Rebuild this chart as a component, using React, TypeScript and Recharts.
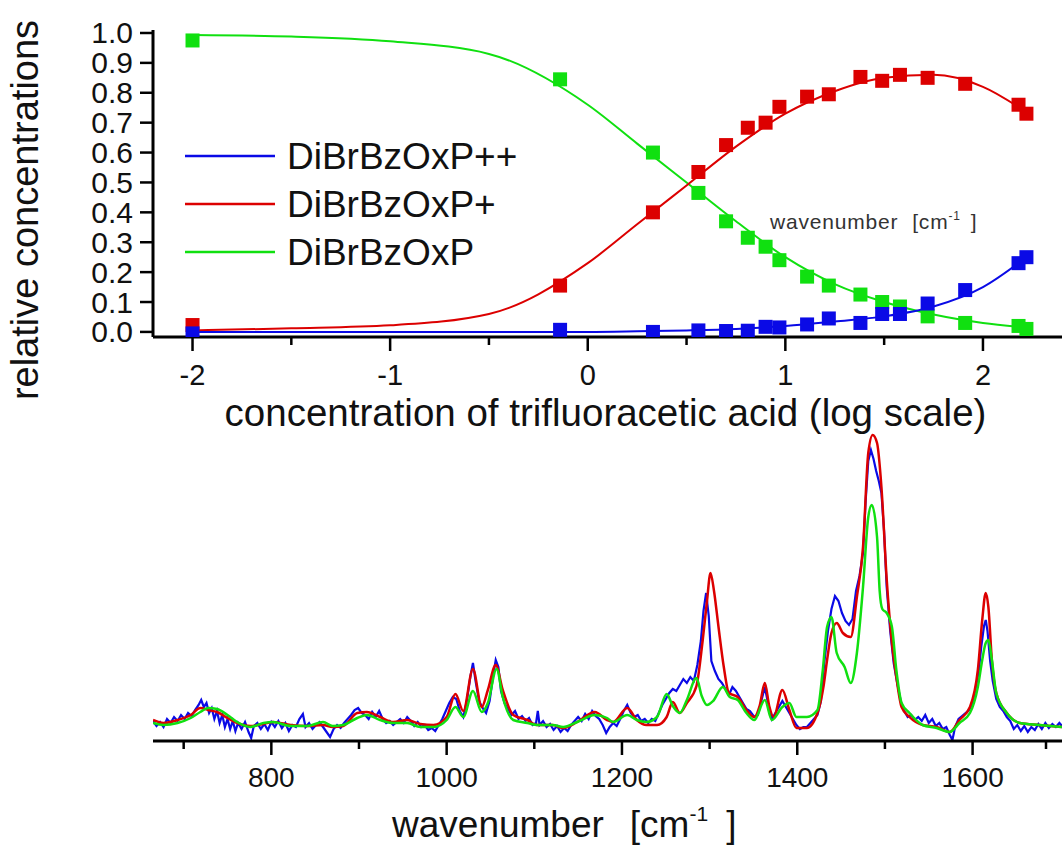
import React from 'react';
import { ComposedChart, Line, Scatter, XAxis, YAxis, Legend } from 'recharts';

const FONT = "'Liberation Sans', Arial, sans-serif";

const BLUE = '#0a0ae6';
const RED = '#dc0000';
const GREEN = '#10e010';

// ---- titration: measured fractions vs log[TFA] ----
const logAcid = [-2, -0.14, 0.33, 0.56, 0.7, 0.81, 0.9, 0.97, 1.11, 1.22, 1.38, 1.49, 1.58, 1.72, 1.91, 2.18, 2.22];
const dicationMeasured = [-0.005, 0.007, 0.0, 0.005, 0.003, 0.004, 0.017, 0.015, 0.025, 0.045, 0.03, 0.06, 0.06, 0.095, 0.14, 0.23, 0.25];
const cationMeasured = [0.023, 0.155, 0.4, 0.535, 0.625, 0.683, 0.7, 0.753, 0.787, 0.795, 0.853, 0.84, 0.86, 0.85, 0.83, 0.76, 0.73];
const neutralMeasured = [0.975, 0.845, 0.6, 0.465, 0.37, 0.315, 0.285, 0.24, 0.185, 0.155, 0.125, 0.1, 0.085, 0.052, 0.03, 0.02, 0.01];

// fitted curves
const fitAcid = [-2, -1.5, -1, -0.5, 0, 0.25, 0.5, 0.75, 1, 1.25, 1.5, 1.75, 2, 2.22];
const dicationFit = [0.0, 0.0, 0.0, 0.0, 0.0, 0.002, 0.005, 0.01, 0.02, 0.035, 0.052, 0.085, 0.15, 0.25];
const cationFit = [0.005, 0.012, 0.022, 0.06, 0.23, 0.36, 0.49, 0.62, 0.73, 0.805, 0.85, 0.86, 0.82, 0.735];
const neutralFit = [0.993, 0.988, 0.972, 0.93, 0.76, 0.63, 0.5, 0.37, 0.25, 0.16, 0.1, 0.058, 0.03, 0.015];

const fracTicks = [0, 0.1, 0.2, 0.3, 0.4, 0.5, 0.6, 0.7, 0.8, 0.9, 1.0];
const acidTicks = [-2, -1.5, -1, -0.5, 0, 0.5, 1, 1.5, 2];

// ---- spectra: [wavenumber, intensity] ----
const cationSpectrum: [number, number][] = [
  [665, 21], [677, 18], [693, 21], [708, 26], [719, 33], [728, 31], [738, 29], [750, 23], [761, 18], [776, 15],
  [791, 17], [802, 19], [822, 16], [841, 15], [859, 16], [870, 14], [882, 15], [898, 28], [909, 29], [924, 24],
  [939, 19], [955, 21], [970, 17], [985, 16], [1000, 24], [1010, 47], [1019, 30], [1030, 72], [1040, 34], [1047, 51],
  [1056, 76], [1064, 51], [1076, 26], [1092, 21], [1103, 16], [1121, 16], [1133, 13], [1149, 19], [1169, 29], [1183, 21],
  [1190, 19], [1206, 33], [1217, 21], [1228, 16], [1240, 16], [1251, 24], [1258, 39], [1266, 28], [1274, 38], [1285, 55],
  [1292, 100], [1297, 140], [1301, 168], [1305, 150], [1310, 115], [1316, 75], [1322, 48], [1332, 44], [1342, 31], [1351, 24],
  [1357, 35], [1363, 58], [1368, 35], [1373, 24], [1383, 51], [1391, 31], [1399, 13], [1411, 13], [1423, 28], [1430, 55],
  [1434, 81], [1439, 108], [1445, 118], [1452, 108], [1461, 104], [1468, 144], [1475, 194], [1481, 288], [1486, 306], [1491, 298],
  [1496, 254], [1502, 162], [1508, 98], [1513, 64], [1519, 34], [1528, 24], [1543, 16], [1559, 14], [1574, 9], [1585, 21],
  [1597, 34], [1606, 71], [1611, 121], [1615, 148], [1618, 134], [1622, 81], [1627, 48], [1639, 28], [1654, 18], [1676, 16],
  [1702, 14],
];

const neutralSpectrum: [number, number][] = [
  [665, 18], [677, 16], [693, 18], [708, 23], [719, 29], [728, 33], [738, 32], [750, 26], [761, 19], [776, 14],
  [791, 18], [802, 19], [822, 15], [841, 15], [859, 19], [870, 15], [882, 16], [898, 23], [909, 26], [924, 21],
  [939, 18], [955, 18], [970, 14], [985, 14], [1000, 21], [1010, 34], [1019, 24], [1030, 50], [1040, 29], [1047, 38],
  [1057, 72], [1064, 44], [1076, 21], [1092, 18], [1103, 16], [1121, 16], [1133, 14], [1149, 19], [1169, 26], [1183, 23],
  [1190, 19], [1206, 26], [1217, 21], [1228, 19], [1240, 24], [1251, 47], [1258, 35], [1266, 28], [1274, 41], [1285, 63],
  [1291, 45], [1297, 36], [1304, 40], [1315, 54], [1323, 44], [1332, 41], [1342, 28], [1351, 21], [1363, 41], [1371, 21],
  [1383, 34], [1391, 38], [1399, 24], [1411, 24], [1423, 31], [1429, 70], [1434, 114], [1439, 124], [1445, 88], [1454, 74],
  [1461, 58], [1468, 88], [1475, 154], [1481, 224], [1485, 236], [1491, 204], [1494, 150], [1497, 132], [1502, 128], [1508, 114],
  [1513, 71], [1519, 38], [1528, 28], [1543, 16], [1559, 13], [1574, 9], [1585, 18], [1597, 28], [1606, 54], [1611, 81],
  [1615, 98], [1618, 101], [1622, 81], [1627, 48], [1639, 28], [1654, 18], [1676, 16], [1702, 14],
];

const dicationSpectrum: [number, number][] = [
  [665, 20], [669, 15], [673, 19], [677, 14], [681, 22], [685, 18], [689, 24], [693, 20], [697, 26], [701, 22],
  [705, 28], [709, 25], [713, 31], [717, 36], [720, 41], [723, 34], [726, 38], [729, 28], [732, 33], [735, 22],
  [738, 30], [741, 18], [744, 26], [747, 14], [750, 22], [753, 12], [756, 20], [759, 10], [762, 18], [766, 12],
  [770, 19], [774, 9], [777, 3], [780, 15], [784, 18], [788, 12], [792, 17], [796, 11], [800, 19], [804, 14],
  [808, 20], [812, 13], [816, 18], [820, 10], [824, 16], [828, 14], [832, 22], [836, 27], [839, 14], [843, 18],
  [847, 12], [851, 16], [855, 19], [859, 14], [863, 9], [867, 4], [871, 12], [875, 16], [879, 13], [883, 18],
  [887, 22], [891, 26], [895, 31], [899, 33], [903, 28], [907, 26], [911, 22], [915, 29], [919, 24], [923, 30],
  [927, 22], [931, 18], [935, 20], [939, 16], [943, 19], [947, 22], [951, 18], [955, 24], [959, 20], [963, 15],
  [967, 19], [971, 14], [975, 16], [979, 11], [983, 13], [987, 10], [991, 16], [995, 22], [999, 30], [1003, 38],
  [1007, 44], [1011, 42], [1015, 30], [1019, 24], [1023, 40], [1027, 64], [1030, 78], [1033, 60], [1037, 40], [1041, 33],
  [1045, 28], [1049, 40], [1053, 65], [1056, 81], [1059, 74], [1062, 50], [1066, 38], [1070, 32], [1074, 26], [1078, 30],
  [1082, 22], [1086, 25], [1090, 20], [1094, 23], [1098, 16], [1102, 18], [1104, 30], [1106, 16], [1110, 20], [1114, 14],
  [1118, 17], [1122, 11], [1126, 15], [1130, 9], [1134, 13], [1138, 10], [1142, 16], [1146, 20], [1150, 24], [1154, 20],
  [1158, 27], [1162, 22], [1166, 30], [1170, 25], [1174, 22], [1178, 16], [1182, 8], [1186, 14], [1190, 18], [1194, 15],
  [1198, 22], [1202, 30], [1206, 36], [1210, 28], [1214, 24], [1218, 26], [1222, 20], [1226, 22], [1230, 18], [1234, 22],
  [1238, 20], [1242, 28], [1246, 36], [1250, 42], [1254, 48], [1258, 52], [1262, 50], [1266, 56], [1270, 62], [1274, 58],
  [1278, 64], [1282, 60], [1286, 76], [1290, 100], [1293, 130], [1296, 148], [1299, 125], [1302, 80], [1306, 70], [1310, 62],
  [1314, 58], [1318, 52], [1322, 46], [1326, 54], [1330, 50], [1334, 44], [1338, 38], [1342, 32], [1346, 30], [1351, 24],
  [1355, 26], [1359, 40], [1363, 54], [1367, 36], [1371, 22], [1375, 28], [1379, 34], [1383, 40], [1387, 34], [1391, 28],
  [1395, 22], [1399, 16], [1403, 12], [1407, 14], [1411, 14], [1415, 18], [1419, 22], [1423, 26], [1427, 40], [1431, 80],
  [1435, 110], [1439, 132], [1443, 145], [1447, 140], [1451, 128], [1455, 120], [1459, 116], [1463, 122], [1467, 150], [1471, 165],
  [1475, 188], [1478, 240], [1481, 280], [1484, 291], [1487, 282], [1490, 270], [1493, 260], [1496, 248], [1499, 210], [1502, 154],
  [1506, 110], [1510, 78], [1514, 58], [1518, 40], [1522, 30], [1526, 24], [1530, 26], [1534, 21], [1538, 24], [1542, 20],
  [1546, 26], [1550, 18], [1554, 22], [1558, 15], [1562, 18], [1566, 12], [1570, 14], [1574, 6], [1577, 1], [1580, 14],
  [1584, 22], [1588, 25], [1592, 28], [1596, 31], [1600, 38], [1604, 55], [1607, 70], [1610, 95], [1613, 115], [1615, 121],
  [1617, 110], [1620, 80], [1623, 60], [1627, 42], [1631, 34], [1635, 30], [1639, 24], [1643, 20], [1647, 12], [1651, 16],
  [1655, 10], [1659, 15], [1663, 9], [1667, 14], [1671, 11], [1675, 17], [1679, 12], [1683, 18], [1687, 13], [1691, 17],
  [1695, 14], [1699, 18], [1702, 15],
];

const wavenumberTicks = [700, 800, 900, 1000, 1100, 1200, 1300, 1400, 1500, 1600, 1700];

const toPoints = (xs: number[], ys: number[]) => xs.map((x, i) => ({ x, y: ys[i] }));
const fromPairs = (pairs: [number, number][]) => pairs.map(([x, y]) => ({ x, y }));

const species = [
  { name: 'DiBrBzOxP++', color: BLUE },
  { name: 'DiBrBzOxP+', color: RED },
  { name: 'DiBrBzOxP', color: GREEN },
];

const AcidTick = ({ x, y, payload }: any) => {
  const major = Number.isInteger(payload.value);
  return (
    <g>
      <line x1={x} x2={x} y1={y} y2={y + (major ? 14 : 8)} stroke="#000" strokeWidth={2.5} />
      {major && (
        <text x={x} y={y + 48} textAnchor="middle" fontSize={29} fontFamily={FONT} fill="#111">
          {payload.value}
        </text>
      )}
    </g>
  );
};

const FracTick = ({ x, y, payload }: any) => (
  <g>
    <line x1={x - 13} x2={x} y1={y} y2={y} stroke="#000" strokeWidth={2.5} />
    <text x={x - 20} y={y + 10.5} textAnchor="end" fontSize={30} fontFamily={FONT} fill="#111">
      {payload.value.toFixed(1)}
    </text>
  </g>
);

const WaveTick = ({ x, y, payload }: any) => {
  const major = payload.value % 200 === 0;
  return (
    <g>
      <line x1={x} x2={x} y1={y} y2={y + (major ? 14 : 8)} stroke="#000" strokeWidth={2.5} />
      {major && (
        <text x={x} y={y + 46} textAnchor="middle" fontSize={28} fontFamily={FONT} fill="#111">
          {payload.value}
        </text>
      )}
    </g>
  );
};

const SpeciesLegend = () => (
  <svg width={420} height={170}>
    {species.map((s, i) => (
      <g key={s.name}>
        <line x1={5} x2={95} y1={26 + i * 48} y2={26 + i * 48} stroke={s.color} strokeWidth={2.5} />
        <text x={107} y={39 + i * 48} fontSize={37} fontFamily={FONT} fill="#111">
          {s.name}
        </text>
      </g>
    ))}
  </svg>
);

const square = (color: string) => (props: any) => (
  <rect x={props.cx - 7} y={props.cy - 7} width={14} height={14} fill={color} />
);

export default function App() {
  return (
    <div style={{ position: 'absolute', left: 0, top: 0, width: 1062, height: 859, background: '#fff', fontFamily: FONT }}>
      <div style={{ position: 'absolute', left: 0, top: 0 }}>
        <ComposedChart width={1062} height={442} margin={{ top: 30, right: 0, left: 0, bottom: 0 }}>
          <XAxis
            type="number"
            dataKey="x"
            domain={[-2.2, 2.4]}
            ticks={acidTicks}
            allowDataOverflow
            height={105}
            tickSize={0}
            tickMargin={0}
            tickLine={false}
            tick={<AcidTick />}
            axisLine={{ stroke: '#000', strokeWidth: 3 }}
            label={({ viewBox }: any) => (
              <text
                x={viewBox.x + viewBox.width / 2 - 2}
                y={viewBox.y + 89}
                textAnchor="middle"
                fontSize={38.5}
                fontFamily={FONT}
                fill="#111"
              >
                concentration of trifluoracetic acid (log scale)
              </text>
            )}
          />
          <YAxis
            type="number"
            dataKey="y"
            domain={[-0.017, 1.01]}
            ticks={fracTicks}
            allowDataOverflow
            width={153}
            tickSize={0}
            tickMargin={0}
            tickLine={false}
            tick={<FracTick />}
            axisLine={{ stroke: '#000', strokeWidth: 3 }}
            label={() => (
              <text
                transform="translate(38, 210) rotate(-90)"
                textAnchor="middle"
                fontSize={38}
                fontFamily={FONT}
                fill="#111"
              >
                relative concentrations
              </text>
            )}
          />
          <Legend
            layout="vertical"
            align="center"
            verticalAlign="middle"
            wrapperStyle={{ position: 'absolute', left: 180, top: 130, width: 420, height: 170 }}
            content={<SpeciesLegend />}
          />
          <Line data={toPoints(fitAcid, neutralFit)} dataKey="y" type="monotone" stroke={GREEN} strokeWidth={2} dot={false} isAnimationActive={false} />
          <Line data={toPoints(fitAcid, cationFit)} dataKey="y" type="monotone" stroke={RED} strokeWidth={2} dot={false} isAnimationActive={false} />
          <Line data={toPoints(fitAcid, dicationFit)} dataKey="y" type="monotone" stroke={BLUE} strokeWidth={2} dot={false} isAnimationActive={false} />
          <Scatter data={toPoints(logAcid, neutralMeasured)} dataKey="y" shape={square(GREEN)} isAnimationActive={false} />
          <Scatter data={toPoints(logAcid, cationMeasured)} dataKey="y" shape={square(RED)} isAnimationActive={false} />
          <Scatter data={toPoints(logAcid, dicationMeasured)} dataKey="y" shape={square(BLUE)} isAnimationActive={false} />
        </ComposedChart>
      </div>

      <svg style={{ position: 'absolute', left: 0, top: 0 }} width={1062} height={260}>
        <text x={770} y={229} fontSize={21} letterSpacing={0.8} fontFamily={FONT} fill="#333">
          wavenumber
          <tspan dx={14}>[cm</tspan>
          <tspan fontSize={12} dy={-9}>-1</tspan>
          <tspan dy={9} dx={10}>]</tspan>
        </text>
      </svg>

      <div style={{ position: 'absolute', left: 0, top: 420 }}>
        <ComposedChart width={1062} height={439} margin={{ top: 0, right: 0, left: 153, bottom: 0 }}>
          <XAxis
            type="number"
            dataKey="x"
            domain={[665, 1702]}
            ticks={wavenumberTicks}
            allowDataOverflow
            height={118}
            tickSize={0}
            tickMargin={0}
            tickLine={false}
            tick={<WaveTick />}
            axisLine={{ stroke: '#000', strokeWidth: 3 }}
            label={({ viewBox }: any) => (
              <text x={viewBox.x + 239} y={viewBox.y + 96} fontSize={37} fontFamily={FONT} fill="#111">
                wavenumber
                <tspan dx={26}>[cm</tspan>
                <tspan fontSize={21} dy={-16}>-1</tspan>
                <tspan dy={16} dx={18}>]</tspan>
              </text>
            )}
          />
          <YAxis type="number" dataKey="y" domain={[0, 321]} allowDataOverflow hide />
          <Line data={fromPairs(dicationSpectrum)} dataKey="y" type="linear" stroke={BLUE} strokeWidth={2.2} dot={false} isAnimationActive={false} />
          <Line data={fromPairs(cationSpectrum)} dataKey="y" type="monotone" stroke={RED} strokeWidth={2.5} dot={false} isAnimationActive={false} />
          <Line data={fromPairs(neutralSpectrum)} dataKey="y" type="monotone" stroke={GREEN} strokeWidth={2.5} dot={false} isAnimationActive={false} />
        </ComposedChart>
      </div>
    </div>
  );
}
